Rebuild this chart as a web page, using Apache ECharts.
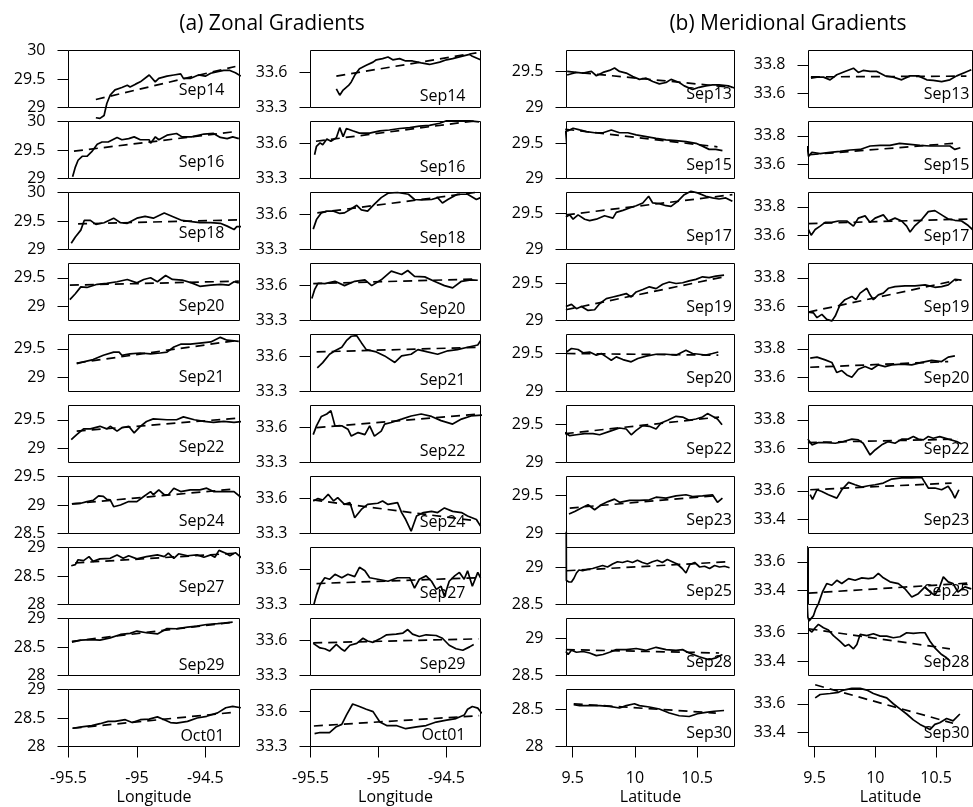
<!DOCTYPE html>
<html><head><meta charset="utf-8">
<script src="https://cdn.jsdelivr.net/npm/echarts@6/dist/echarts.min.js"></script>
<style>html,body{margin:0;padding:0;background:#fff}#c{width:973px;height:807px}</style>
</head><body><div id="c"></div>
<script>
// ---------- categories ----------
const zonalDates = ['Sep14','Sep16','Sep18','Sep20','Sep21','Sep22','Sep24','Sep27','Sep29','Oct01'];
const meridDates = ['Sep13','Sep15','Sep17','Sep19','Sep20','Sep22','Sep23','Sep25','Sep28','Sep30'];

// ---------- axis ranges / tick labels ----------
const lonRange = [-95.5, -94.25];
const latRange = [9.45, 10.8];
const lonTicks = [-95.5, -95, -94.5];
const latTicks = [9.5, 10, 10.5];
const zonalTYMin = [29, 29, 29, 28.75, 28.75, 28.75, 28.5, 28, 28, 28];
const zonalTYMax = [30, 30, 30, 29.75, 29.75, 29.75, 29.5, 29, 29, 29];
const zonalTTicks = [[29,29.5,30],[29,29.5,30],[29,29.5,30],[29,29.5],[29,29.5],[29,29.5],[28.5,29,29.5],[28,28.5,29],[28,28.5,29],[28,28.5,29]];
const zonalSYMin = [33.3,33.3,33.3,33.3,33.3,33.3,33.3,33.3,33.3,33.3];
const zonalSYMax = [33.79,33.79,33.79,33.79,33.79,33.79,33.79,33.79,33.79,33.79];
const zonalSTicks = [33.3, 33.6];
const meridTYMin = [29, 29, 29, 29, 29, 29, 29, 28.5, 28.5, 28];
const meridTYMax = [29.79, 29.81, 29.79, 29.77, 29.75, 29.74, 29.75, 29.26, 29.26, 28.76];
const meridTTicks = [[29,29.5],[29,29.5],[29,29.5],[29,29.5],[29,29.5],[29,29.5],[29,29.5],[28.5,29],[28.5,29],[28,28.5]];
const meridSYMin = [33.5,33.5,33.5,33.5,33.5,33.5,33.3,33.3,33.3,33.3];
const meridSYMax = [33.9,33.9,33.9,33.9,33.9,33.9,33.7,33.7,33.7,33.7];
const meridSTicks = [[33.6,33.8],[33.6,33.8],[33.6,33.8],[33.6,33.8],[33.6,33.8],[33.6,33.8],[33.4,33.6],[33.4,33.6],[33.4,33.6],[33.4,33.6]];

// ---------- (a) zonal temperature ----------
const zonalT_Sep14 = [[-95.30,28.82],[-95.27,28.81],[-95.24,28.86],[-95.22,29.07],[-95.195,29.22],[-95.16,29.31],[-95.11,29.35],[-95.07,29.39],[-95.05,29.36],[-95.01,29.41],[-94.975,29.45],[-94.91,29.57],[-94.866,29.45],[-94.84,29.51],[-94.78,29.55],[-94.73,29.57],[-94.68,29.59],[-94.66,29.51],[-94.61,29.51],[-94.55,29.57],[-94.50,29.55],[-94.46,29.60],[-94.41,29.63],[-94.365,29.65],[-94.32,29.65],[-94.28,29.61],[-94.24,29.55]];
const zonalT_Sep14_fit = [[-95.30,29.14],[-94.28,29.72]];
const zonalT_Sep16 = [[-95.47,29.03],[-95.45,29.20],[-95.43,29.32],[-95.40,29.39],[-95.365,29.39],[-95.33,29.47],[-95.29,29.60],[-95.255,29.64],[-95.21,29.64],[-95.145,29.72],[-95.11,29.68],[-95.06,29.70],[-95.02,29.73],[-94.975,29.68],[-94.91,29.68],[-94.90,29.62],[-94.865,29.73],[-94.84,29.68],[-94.78,29.76],[-94.71,29.79],[-94.67,29.73],[-94.60,29.73],[-94.51,29.78],[-94.44,29.79],[-94.39,29.72],[-94.34,29.70],[-94.30,29.73],[-94.255,29.70]];
const zonalT_Sep16_fit = [[-95.46,29.48],[-94.29,29.82]];
const zonalT_Sep18 = [[-95.48,29.11],[-95.45,29.22],[-95.41,29.34],[-95.385,29.51],[-95.34,29.51],[-95.30,29.44],[-95.24,29.47],[-95.17,29.55],[-95.12,29.47],[-95.07,29.46],[-95.00,29.55],[-94.94,29.58],[-94.88,29.55],[-94.80,29.64],[-94.74,29.58],[-94.67,29.51],[-94.60,29.49],[-94.54,29.47],[-94.46,29.47],[-94.39,29.46],[-94.34,29.41],[-94.29,29.35],[-94.27,29.40],[-94.22,29.40]];
const zonalT_Sep18_fit = [[-95.43,29.45],[-94.255,29.52]];
const zonalT_Sep20 = [[-95.49,29.115],[-95.45,29.22],[-95.41,29.34],[-95.365,29.33],[-95.29,29.385],[-95.22,29.40],[-95.145,29.43],[-95.07,29.47],[-95.00,29.41],[-94.95,29.47],[-94.90,29.50],[-94.85,29.43],[-94.79,29.54],[-94.74,29.47],[-94.67,29.46],[-94.60,29.41],[-94.54,29.35],[-94.46,29.37],[-94.39,29.385],[-94.33,29.37],[-94.29,29.43],[-94.255,29.41]];
const zonalT_Sep20_fit = [[-95.49,29.37],[-94.255,29.44]];
const zonalT_Sep21 = [[-95.44,29.24],[-95.39,29.27],[-95.32,29.31],[-95.245,29.385],[-95.17,29.44],[-95.13,29.44],[-95.11,29.385],[-95.05,29.41],[-94.975,29.425],[-94.90,29.41],[-94.83,29.425],[-94.78,29.44],[-94.73,29.53],[-94.68,29.58],[-94.61,29.58],[-94.54,29.60],[-94.46,29.62],[-94.39,29.70],[-94.34,29.65],[-94.255,29.63]];
const zonalT_Sep21_fit = [[-95.44,29.25],[-94.255,29.65]];
const zonalT_Sep22 = [[-95.48,29.15],[-95.44,29.24],[-95.39,29.34],[-95.34,29.34],[-95.27,29.385],[-95.22,29.34],[-95.195,29.385],[-95.145,29.30],[-95.11,29.36],[-95.06,29.385],[-95.02,29.27],[-94.975,29.385],[-94.93,29.47],[-94.88,29.515],[-94.78,29.50],[-94.71,29.50],[-94.66,29.55],[-94.58,29.50],[-94.51,29.47],[-94.44,29.455],[-94.365,29.47],[-94.29,29.455],[-94.22,29.47]];
const zonalT_Sep22_fit = [[-95.44,29.30],[-94.255,29.53]];
const zonalT_Sep24 = [[-95.475,29.02],[-95.41,29.03],[-95.365,29.06],[-95.32,29.08],[-95.28,29.16],[-95.245,29.15],[-95.22,29.10],[-95.195,29.09],[-95.17,28.97],[-95.12,29.00],[-95.06,29.06],[-95.00,29.06],[-94.95,29.15],[-94.90,29.235],[-94.88,29.18],[-94.84,29.265],[-94.80,29.18],[-94.77,29.18],[-94.73,29.295],[-94.68,29.235],[-94.61,29.265],[-94.54,29.265],[-94.49,29.295],[-94.44,29.235],[-94.365,29.235],[-94.29,29.235],[-94.24,29.135]];
const zonalT_Sep24_fit = [[-95.475,29.02],[-94.29,29.28]];
const zonalT_Sep27 = [[-95.48,28.68],[-95.45,28.70],[-95.43,28.785],[-95.39,28.77],[-95.35,28.84],[-95.32,28.756],[-95.27,28.80],[-95.195,28.81],[-95.145,28.87],[-95.10,28.81],[-95.06,28.855],[-95.00,28.80],[-94.93,28.84],[-94.85,28.87],[-94.80,28.84],[-94.77,28.90],[-94.73,28.81],[-94.695,28.89],[-94.63,28.855],[-94.56,28.87],[-94.51,28.83],[-94.46,28.87],[-94.43,28.83],[-94.40,28.95],[-94.35,28.90],[-94.32,28.855],[-94.28,28.91],[-94.23,28.81]];
const zonalT_Sep27_fit = [[-95.45,28.73],[-94.27,28.90]];
const zonalT_Sep29 = [[-95.475,28.585],[-95.41,28.62],[-95.34,28.63],[-95.27,28.62],[-95.195,28.66],[-95.12,28.72],[-95.05,28.74],[-95.00,28.78],[-94.93,28.75],[-94.85,28.73],[-94.78,28.825],[-94.71,28.82],[-94.63,28.85],[-94.56,28.865],[-94.49,28.895],[-94.41,28.91],[-94.365,28.92],[-94.30,28.935]];
const zonalT_Sep29_fit = [[-95.475,28.60],[-94.30,28.935]];
const zonalT_Oct01 = [[-95.47,28.32],[-95.39,28.35],[-95.33,28.365],[-95.27,28.40],[-95.21,28.44],[-95.16,28.44],[-95.085,28.47],[-95.035,28.42],[-94.975,28.47],[-94.91,28.48],[-94.85,28.52],[-94.80,28.47],[-94.755,28.42],[-94.71,28.41],[-94.63,28.44],[-94.56,28.50],[-94.49,28.53],[-94.41,28.59],[-94.35,28.68],[-94.30,28.705],[-94.24,28.68]];
const zonalT_Oct01_fit = [[-95.47,28.32],[-94.29,28.60]];

// ---------- (a) zonal salinity ----------
const zonalS_Sep14 = [[-95.31,33.46],[-95.285,33.406],[-95.26,33.45],[-95.22,33.49],[-95.20,33.52],[-95.175,33.577],[-95.14,33.634],[-95.09,33.663],[-95.04,33.69],[-95.016,33.71],[-94.97,33.72],[-94.93,33.734],[-94.895,33.71],[-94.845,33.72],[-94.80,33.70],[-94.75,33.70],[-94.686,33.683],[-94.625,33.67],[-94.55,33.69],[-94.50,33.71],[-94.455,33.72],[-94.39,33.74],[-94.33,33.757],[-94.31,33.74],[-94.25,33.71]];
const zonalS_Sep14_fit = [[-95.31,33.57],[-94.28,33.77]];
const zonalS_Sep16 = [[-95.47,33.504],[-95.456,33.577],[-95.43,33.606],[-95.41,33.59],[-95.38,33.64],[-95.35,33.62],[-95.31,33.65],[-95.285,33.737],[-95.26,33.66],[-95.236,33.73],[-95.19,33.71],[-95.14,33.69],[-95.065,33.69],[-94.99,33.71],[-94.92,33.717],[-94.845,33.73],[-94.77,33.737],[-94.70,33.75],[-94.625,33.757],[-94.55,33.775],[-94.50,33.796],[-94.43,33.796],[-94.33,33.796],[-94.26,33.787]];
const zonalS_Sep16_fit = [[-95.46,33.62],[-94.26,33.80]];
const zonalS_Sep18 = [[-95.48,33.475],[-95.456,33.557],[-95.42,33.615],[-95.38,33.63],[-95.33,33.63],[-95.285,33.61],[-95.25,33.615],[-95.20,33.65],[-95.16,33.68],[-95.126,33.64],[-95.08,33.63],[-95.03,33.69],[-94.98,33.746],[-94.93,33.784],[-94.86,33.79],[-94.78,33.775],[-94.735,33.73],[-94.686,33.726],[-94.61,33.73],[-94.565,33.746],[-94.53,33.70],[-94.49,33.73],[-94.42,33.775],[-94.345,33.775],[-94.28,33.73],[-94.25,33.746]];
const zonalS_Sep18_fit = [[-95.45,33.615],[-94.25,33.796]];
const zonalS_Sep20 = [[-95.49,33.49],[-95.47,33.565],[-95.445,33.62],[-95.395,33.617],[-95.32,33.637],[-95.25,33.60],[-95.175,33.637],[-95.10,33.65],[-95.05,33.60],[-94.98,33.65],[-94.906,33.724],[-94.83,33.695],[-94.785,33.73],[-94.735,33.68],[-94.66,33.675],[-94.59,33.637],[-94.515,33.60],[-94.455,33.58],[-94.39,33.637],[-94.32,33.65],[-94.27,33.646]];
const zonalS_Sep20_fit = [[-95.48,33.617],[-94.27,33.657]];
const zonalS_Sep21 = [[-95.45,33.504],[-95.41,33.548],[-95.36,33.62],[-95.32,33.65],[-95.27,33.68],[-95.236,33.737],[-95.20,33.775],[-95.16,33.78],[-95.126,33.72],[-95.09,33.66],[-95.016,33.64],[-94.955,33.606],[-94.88,33.55],[-94.83,33.606],[-94.76,33.62],[-94.71,33.66],[-94.64,33.64],[-94.565,33.62],[-94.49,33.65],[-94.42,33.66],[-94.345,33.68],[-94.27,33.70],[-94.25,33.737]];
const zonalS_Sep21_fit = [[-95.455,33.64],[-94.27,33.68]];
const zonalS_Sep22 = [[-95.48,33.54],[-95.456,33.615],[-95.42,33.696],[-95.38,33.717],[-95.35,33.746],[-95.32,33.615],[-95.27,33.615],[-95.225,33.586],[-95.20,33.527],[-95.15,33.557],[-95.10,33.54],[-95.065,33.615],[-95.03,33.527],[-94.98,33.57],[-94.955,33.63],[-94.906,33.644],[-94.83,33.673],[-94.76,33.70],[-94.686,33.717],[-94.61,33.696],[-94.54,33.66],[-94.455,33.63],[-94.39,33.673],[-94.32,33.70],[-94.235,33.708]];
const zonalS_Sep22_fit = [[-95.456,33.60],[-94.25,33.717]];
const zonalS_Sep24 = [[-95.48,33.58],[-95.445,33.60],[-95.41,33.588],[-95.37,33.637],[-95.33,33.58],[-95.30,33.608],[-95.25,33.55],[-95.21,33.565],[-95.175,33.435],[-95.126,33.507],[-95.08,33.55],[-95.005,33.56],[-94.97,33.58],[-94.93,33.55],[-94.86,33.565],[-94.83,33.48],[-94.80,33.42],[-94.76,33.32],[-94.72,33.45],[-94.67,33.48],[-94.61,33.49],[-94.565,33.48],[-94.515,33.52],[-94.455,33.49],[-94.39,33.48],[-94.345,33.45],[-94.28,33.42],[-94.25,33.363]];
const zonalS_Sep24_fit = [[-95.48,33.588],[-94.27,33.407]];
const zonalS_Sep27 = [[-95.475,33.30],[-95.456,33.383],[-95.43,33.47],[-95.395,33.53],[-95.36,33.517],[-95.32,33.56],[-95.27,33.53],[-95.225,33.56],[-95.175,33.54],[-95.14,33.62],[-95.10,33.59],[-95.065,33.53],[-95.005,33.517],[-94.93,33.50],[-94.86,33.53],[-94.77,33.53],[-94.735,33.44],[-94.70,33.517],[-94.65,33.546],[-94.61,33.50],[-94.575,33.43],[-94.54,33.457],[-94.515,33.37],[-94.48,33.50],[-94.44,33.546],[-94.405,33.576],[-94.37,33.517],[-94.345,33.59],[-94.31,33.457],[-94.27,33.576],[-94.25,33.53]];
const zonalS_Sep27_fit = [[-95.456,33.48],[-94.27,33.53]];
const zonalS_Sep29 = [[-95.48,33.576],[-95.43,33.537],[-95.395,33.53],[-95.36,33.51],[-95.31,33.567],[-95.27,33.525],[-95.25,33.51],[-95.21,33.56],[-95.16,33.576],[-95.114,33.62],[-95.08,33.597],[-95.04,33.585],[-94.99,33.615],[-94.94,33.65],[-94.87,33.656],[-94.82,33.665],[-94.785,33.695],[-94.75,33.656],[-94.70,33.635],[-94.65,33.65],[-94.576,33.644],[-94.53,33.62],[-94.48,33.56],[-94.43,33.53],[-94.38,33.517],[-94.33,33.546],[-94.30,33.567]];
const zonalS_Sep29_fit = [[-95.48,33.58],[-94.265,33.615]];
const zonalS_Oct01 = [[-95.47,33.41],[-95.43,33.42],[-95.36,33.42],[-95.31,33.47],[-95.27,33.49],[-95.236,33.57],[-95.19,33.665],[-95.14,33.644],[-95.09,33.62],[-95.04,33.60],[-94.99,33.51],[-94.94,33.48],[-94.87,33.48],[-94.80,33.453],[-94.72,33.468],[-94.65,33.48],[-94.576,33.51],[-94.50,33.526],[-94.43,33.54],[-94.37,33.57],[-94.345,33.62],[-94.31,33.644],[-94.27,33.63],[-94.24,33.585]];
const zonalS_Oct01_fit = [[-95.475,33.476],[-94.26,33.565]];

// ---------- (b) meridional temperature ----------
const meridT_Sep13 = [[9.455,29.45],[9.49,29.467],[9.53,29.486],[9.583,29.477],[9.65,29.50],[9.69,29.44],[9.743,29.486],[9.796,29.514],[9.836,29.547],[9.876,29.50],[9.93,29.477],[9.983,29.43],[10.036,29.39],[10.09,29.407],[10.143,29.36],[10.196,29.327],[10.25,29.346],[10.29,29.39],[10.356,29.346],[10.396,29.30],[10.463,29.25],[10.516,29.28],[10.57,29.30],[10.623,29.313],[10.676,29.313],[10.75,29.30],[10.80,29.27]];
const meridT_Sep13_fit = [[9.455,29.50],[10.78,29.28]];
const meridT_Sep15 = [[9.43,29.45],[9.44,29.667],[9.463,29.68],[9.503,29.714],[9.556,29.69],[9.61,29.667],[9.676,29.65],[9.743,29.65],[9.81,29.69],[9.876,29.65],[9.943,29.65],[10.01,29.62],[10.09,29.595],[10.17,29.57],[10.25,29.548],[10.33,29.538],[10.41,29.524],[10.49,29.50],[10.543,29.46],[10.596,29.414],[10.65,29.414],[10.703,29.395]];
const meridT_Sep15_fit = [[9.44,29.70],[10.663,29.45]];
const meridT_Sep17 = [[9.445,29.45],[9.476,29.48],[9.503,29.42],[9.543,29.48],[9.596,29.42],[9.636,29.40],[9.69,29.42],[9.756,29.467],[9.823,29.435],[9.85,29.514],[9.903,29.542],[9.956,29.575],[10.01,29.607],[10.063,29.645],[10.11,29.738],[10.143,29.645],[10.196,29.636],[10.25,29.607],[10.29,29.598],[10.343,29.668],[10.396,29.76],[10.45,29.808],[10.503,29.785],[10.57,29.738],[10.623,29.715],[10.676,29.70],[10.73,29.715],[10.783,29.668]];
const meridT_Sep17_fit = [[9.445,29.48],[10.783,29.76]];
const meridT_Sep19 = [[9.445,29.19],[9.49,29.218],[9.53,29.16],[9.57,29.19],[9.623,29.136],[9.676,29.145],[9.716,29.227],[9.77,29.295],[9.823,29.318],[9.876,29.34],[9.93,29.364],[9.97,29.318],[10.01,29.386],[10.063,29.418],[10.116,29.455],[10.17,29.43],[10.223,29.49],[10.276,29.52],[10.33,29.50],[10.383,29.51],[10.436,29.536],[10.49,29.555],[10.543,29.59],[10.596,29.58],[10.65,29.60],[10.716,29.614]];
const meridT_Sep19_fit = [[9.445,29.145],[10.716,29.59]];
const meridT_Sep20 = [[9.45,29.52],[9.49,29.566],[9.543,29.553],[9.583,29.51],[9.636,29.52],[9.69,29.478],[9.73,29.50],[9.77,29.456],[9.81,29.412],[9.85,29.456],[9.903,29.42],[9.97,29.39],[10.023,29.434],[10.09,29.465],[10.17,29.49],[10.25,29.49],[10.33,29.478],[10.41,29.544],[10.463,29.50],[10.516,29.49],[10.57,29.478],[10.623,29.50],[10.67,29.52]];
const meridT_Sep20_fit = [[9.45,29.50],[10.67,29.478]];
const meridT_Sep22 = [[9.436,29.39],[9.476,29.348],[9.53,29.36],[9.596,29.374],[9.663,29.374],[9.716,29.36],[9.796,29.404],[9.876,29.448],[9.93,29.435],[9.97,29.36],[10.01,29.417],[10.063,29.478],[10.116,29.47],[10.17,29.435],[10.21,29.513],[10.263,29.548],[10.33,29.60],[10.383,29.59],[10.436,29.548],[10.49,29.565],[10.543,29.59],[10.583,29.635],[10.623,29.60],[10.663,29.565],[10.70,29.49]];
const meridT_Sep22_fit = [[9.436,29.374],[10.676,29.59]];
const meridT_Sep23 = [[9.47,29.257],[9.516,29.29],[9.57,29.335],[9.623,29.378],[9.676,29.313],[9.73,29.378],[9.783,29.42],[9.836,29.452],[9.876,29.41],[9.956,29.435],[10.036,29.435],[10.116,29.443],[10.17,29.478],[10.25,29.465],[10.33,29.496],[10.41,29.51],[10.463,29.487],[10.543,29.496],[10.623,29.51],[10.663,29.41],[10.703,29.465]];
const meridT_Sep23_fit = [[9.476,29.335],[10.636,29.496]];
const meridT_Sep25 = [[9.448,29.47],[9.449,28.82],[9.47,28.80],[9.49,28.80],[9.51,28.85],[9.53,28.92],[9.55,28.96],[9.58,28.95],[9.62,28.97],[9.66,28.98],[9.70,29.0],[9.74,29.02],[9.78,29.0],[9.82,29.04],[9.86,29.07],[9.90,29.06],[9.94,29.08],[9.98,29.06],[10.02,29.09],[10.06,29.06],[10.10,29.04],[10.14,29.07],[10.18,29.09],[10.22,29.06],[10.26,29.10],[10.30,29.07],[10.34,29.04],[10.38,28.98],[10.41,28.92],[10.44,29.03],[10.48,29.06],[10.52,29.0],[10.56,29.01],[10.60,28.98],[10.64,29.02],[10.68,29.0],[10.72,29.01],[10.76,28.99]];
const meridT_Sep25_fit = [[9.45,28.95],[10.75,29.07]];
const meridT_Sep28 = [[9.445,28.82],[9.463,28.78],[9.49,28.836],[9.53,28.81],[9.583,28.82],[9.636,28.80],[9.69,28.765],[9.743,28.78],[9.796,28.81],[9.85,28.845],[9.93,28.845],[10.01,28.86],[10.09,28.836],[10.17,28.876],[10.25,28.845],[10.33,28.836],[10.383,28.845],[10.436,28.80],[10.516,28.75],[10.596,28.71],[10.65,28.735],[10.703,28.78]];
const meridT_Sep28_fit = [[9.445,28.845],[10.676,28.80]];
const meridT_Sep30 = [[9.508,28.558],[9.556,28.545],[9.636,28.545],[9.716,28.545],[9.796,28.536],[9.876,28.513],[9.93,28.545],[9.996,28.57],[10.036,28.545],[10.116,28.527],[10.196,28.50],[10.276,28.446],[10.356,28.41],[10.436,28.40],[10.503,28.437],[10.57,28.455],[10.636,28.47],[10.716,28.48]];
const meridT_Sep30_fit = [[9.508,28.57],[10.65,28.446]];

// ---------- (b) meridional salinity ----------
const meridS_Sep13 = [[9.47,33.706],[9.52,33.713],[9.573,33.713],[9.628,33.694],[9.683,33.73],[9.75,33.753],[9.82,33.776],[9.86,33.746],[9.90,33.76],[9.957,33.753],[10.012,33.753],[10.08,33.722],[10.148,33.713],[10.217,33.694],[10.286,33.722],[10.354,33.722],[10.423,33.694],[10.477,33.69],[10.546,33.682],[10.614,33.694],[10.67,33.722],[10.737,33.746],[10.79,33.765]];
const meridS_Sep13_fit = [[9.47,33.715],[10.75,33.72]];
const meridS_Sep15 = [[9.44,33.728],[9.45,33.655],[9.478,33.684],[9.546,33.675],[9.628,33.684],[9.71,33.69],[9.793,33.70],[9.875,33.704],[9.957,33.728],[10.04,33.733],[10.12,33.733],[10.20,33.747],[10.286,33.74],[10.368,33.733],[10.45,33.728],[10.53,33.728],[10.614,33.728],[10.655,33.704],[10.70,33.716]];
const meridS_Sep15_fit = [[9.46,33.667],[10.64,33.747]];
const meridS_Sep17 = [[9.45,33.64],[9.472,33.60],[9.505,33.64],[9.546,33.664],[9.587,33.69],[9.642,33.69],[9.697,33.70],[9.765,33.70],[9.82,33.664],[9.86,33.72],[9.916,33.736],[9.957,33.69],[9.998,33.72],[10.066,33.743],[10.107,33.70],[10.162,33.72],[10.217,33.70],[10.258,33.664],[10.286,33.623],[10.327,33.668],[10.382,33.71],[10.436,33.766],[10.49,33.773],[10.546,33.743],[10.6,33.714],[10.655,33.705],[10.71,33.70],[10.765,33.668],[10.8,33.64]];
const meridS_Sep17_fit = [[9.45,33.682],[10.765,33.714]];
const meridS_Sep19 = [[9.45,33.559],[9.49,33.554],[9.52,33.52],[9.56,33.543],[9.60,33.508],[9.642,33.497],[9.67,33.531],[9.71,33.611],[9.75,33.646],[9.807,33.669],[9.84,33.646],[9.875,33.692],[9.93,33.726],[9.957,33.68],[9.984,33.646],[10.025,33.68],[10.066,33.692],[10.107,33.726],[10.162,33.738],[10.244,33.743],[10.327,33.743],[10.41,33.75],[10.49,33.733],[10.546,33.738],[10.6,33.75],[10.655,33.789],[10.71,33.784]];
const meridS_Sep19_fit = [[9.45,33.559],[10.68,33.784]];
const meridS_Sep20 = [[9.464,33.734],[9.52,33.741],[9.587,33.722],[9.642,33.704],[9.683,33.633],[9.724,33.647],[9.765,33.616],[9.807,33.60],[9.86,33.656],[9.916,33.675],[9.97,33.656],[10.025,33.687],[10.08,33.675],[10.135,33.687],[10.217,33.692],[10.3,33.687],[10.382,33.704],[10.464,33.718],[10.546,33.71],[10.6,33.741],[10.655,33.75]];
const meridS_Sep20_fit = [[9.464,33.67],[10.6,33.71]];
const meridS_Sep22 = [[9.445,33.664],[9.478,33.624],[9.532,33.64],[9.6,33.64],[9.67,33.635],[9.738,33.647],[9.807,33.664],[9.86,33.659],[9.9,33.635],[9.957,33.553],[9.998,33.588],[10.053,33.624],[10.107,33.647],[10.162,33.635],[10.217,33.664],[10.27,33.664],[10.313,33.682],[10.354,33.664],[10.395,33.659],[10.436,33.682],[10.477,33.67],[10.53,33.682],[10.6,33.664],[10.67,33.647],[10.71,33.63]];
const meridS_Sep22_fit = [[9.445,33.64],[10.68,33.664]];
const meridS_Sep23 = [[9.464,33.572],[9.483,33.54],[9.52,33.607],[9.56,33.595],[9.614,33.572],[9.683,33.548],[9.724,33.607],[9.78,33.659],[9.834,33.642],[9.889,33.626],[9.943,33.635],[9.998,33.642],[10.066,33.654],[10.135,33.682],[10.217,33.69],[10.3,33.69],[10.382,33.694],[10.436,33.619],[10.49,33.619],[10.546,33.607],[10.6,33.631],[10.628,33.595],[10.655,33.548],[10.688,33.607]];
const meridS_Sep23_fit = [[9.464,33.607],[10.628,33.654]];
const meridS_Sep25 = [[9.438,33.71],[9.44,33.30],[9.445,33.21],[9.455,33.185],[9.47,33.19],[9.49,33.22],[9.51,33.27],[9.532,33.306],[9.565,33.388],[9.6,33.447],[9.642,33.435],[9.683,33.47],[9.724,33.447],[9.78,33.482],[9.834,33.47],[9.889,33.487],[9.943,33.482],[9.984,33.487],[10.025,33.518],[10.066,33.487],[10.121,33.459],[10.19,33.447],[10.244,33.41],[10.3,33.353],[10.354,33.376],[10.409,33.424],[10.45,33.388],[10.49,33.365],[10.53,33.424],[10.56,33.494],[10.6,33.459],[10.64,33.447],[10.68,33.388],[10.738,33.424],[10.79,33.41]];
const meridS_Sep25_fit = [[9.45,33.38],[10.765,33.45]];
const meridS_Sep28 = [[9.45,33.624],[9.478,33.605],[9.505,33.635],[9.532,33.659],[9.573,33.635],[9.614,33.619],[9.655,33.58],[9.71,33.54],[9.75,33.506],[9.78,33.518],[9.82,33.487],[9.848,33.518],[9.875,33.588],[9.93,33.58],[9.984,33.593],[10.039,33.576],[10.094,33.576],[10.148,33.565],[10.203,33.572],[10.258,33.60],[10.313,33.595],[10.368,33.60],[10.409,33.60],[10.45,33.54],[10.49,33.494],[10.546,33.447],[10.587,33.424],[10.614,33.40]];
const meridS_Sep28_fit = [[9.45,33.628],[10.614,33.487]];
const meridS_Sep30 = [[9.505,33.641],[9.546,33.665],[9.628,33.672],[9.697,33.68],[9.738,33.696],[9.807,33.708],[9.875,33.708],[9.93,33.696],[9.984,33.672],[10.039,33.655],[10.094,33.641],[10.148,33.60],[10.203,33.564],[10.258,33.528],[10.313,33.487],[10.368,33.455],[10.423,33.431],[10.45,33.419],[10.49,33.455],[10.53,33.467],[10.587,33.496],[10.64,33.48],[10.696,33.528]];
const meridS_Sep30_fit = [[9.505,33.733],[10.64,33.463]];

// ---------- assemble ----------
const zonalT = [zonalT_Sep14,zonalT_Sep16,zonalT_Sep18,zonalT_Sep20,zonalT_Sep21,zonalT_Sep22,zonalT_Sep24,zonalT_Sep27,zonalT_Sep29,zonalT_Oct01];
const zonalTFit = [zonalT_Sep14_fit,zonalT_Sep16_fit,zonalT_Sep18_fit,zonalT_Sep20_fit,zonalT_Sep21_fit,zonalT_Sep22_fit,zonalT_Sep24_fit,zonalT_Sep27_fit,zonalT_Sep29_fit,zonalT_Oct01_fit];
const zonalS = [zonalS_Sep14,zonalS_Sep16,zonalS_Sep18,zonalS_Sep20,zonalS_Sep21,zonalS_Sep22,zonalS_Sep24,zonalS_Sep27,zonalS_Sep29,zonalS_Oct01];
const zonalSFit = [zonalS_Sep14_fit,zonalS_Sep16_fit,zonalS_Sep18_fit,zonalS_Sep20_fit,zonalS_Sep21_fit,zonalS_Sep22_fit,zonalS_Sep24_fit,zonalS_Sep27_fit,zonalS_Sep29_fit,zonalS_Oct01_fit];
const meridT = [meridT_Sep13,meridT_Sep15,meridT_Sep17,meridT_Sep19,meridT_Sep20,meridT_Sep22,meridT_Sep23,meridT_Sep25,meridT_Sep28,meridT_Sep30];
const meridTFit = [meridT_Sep13_fit,meridT_Sep15_fit,meridT_Sep17_fit,meridT_Sep19_fit,meridT_Sep20_fit,meridT_Sep22_fit,meridT_Sep23_fit,meridT_Sep25_fit,meridT_Sep28_fit,meridT_Sep30_fit];
const meridS = [meridS_Sep13,meridS_Sep15,meridS_Sep17,meridS_Sep19,meridS_Sep20,meridS_Sep22,meridS_Sep23,meridS_Sep25,meridS_Sep28,meridS_Sep30];
const meridSFit = [meridS_Sep13_fit,meridS_Sep15_fit,meridS_Sep17_fit,meridS_Sep19_fit,meridS_Sep20_fit,meridS_Sep22_fit,meridS_Sep23_fit,meridS_Sep25_fit,meridS_Sep28_fit,meridS_Sep30_fit];

// ---------- layout ----------
const FONT = '"Open Sans", "Noto Sans", sans-serif';
const colLeft = [68.5, 310.5, 566.5, 808.5];
const colWidth = [171, 170, 168, 164];
const rowTop0 = 50.5, rowStep = 71, rowH = 57;
const labelInset = [15, 15, 2.5, 3];
const col1LabelDy = [40, 41, 40.6, 43.3, 43.3, 42.3, 45, 39.7, 46.7, 46.7];
const colLabelDy = [null, 45.7, 44.3, 44.3];

const columns = [
  {dates: zonalDates, solid: zonalT, fit: zonalTFit, xr: lonRange, xt: lonTicks, ymin: zonalTYMin, ymax: zonalTYMax, yt: zonalTTicks, xname: 'Longitude'},
  {dates: zonalDates, solid: zonalS, fit: zonalSFit, xr: lonRange, xt: lonTicks, ymin: zonalSYMin, ymax: zonalSYMax, yt: zonalTTicks.map(() => zonalSTicks), xname: 'Longitude'},
  {dates: meridDates, solid: meridT, fit: meridTFit, xr: latRange, xt: latTicks, ymin: meridTYMin, ymax: meridTYMax, yt: meridTTicks, xname: 'Latitude'},
  {dates: meridDates, solid: meridS, fit: meridSFit, xr: latRange, xt: latTicks, ymin: meridSYMin, ymax: meridSYMax, yt: meridSTicks, xname: 'Latitude'}
];

const grid = [], xAxis = [], yAxis = [], series = [], graphic = [];
columns.forEach((col, c) => {
  for (let r = 0; r < 10; r++) {
    const idx = grid.length;
    const top = rowTop0 + rowStep * r;
    grid.push({left: colLeft[c], top: top, width: colWidth[c], height: rowH, show: true,
      borderColor: '#000', borderWidth: 1, backgroundColor: 'transparent', outerBoundsMode: 'none'});
    const bottomRow = r === 9;
    xAxis.push({type: 'value', gridIndex: idx, min: col.xr[0], max: col.xr[1],
      axisLine: {show: false}, splitLine: {show: false},
      axisTick: {show: bottomRow, length: 11, customValues: col.xt, lineStyle: {color: '#000', width: 1}},
      axisLabel: {show: bottomRow, customValues: col.xt, margin: 24, color: '#000', fontSize: 16, fontFamily: FONT}});
    yAxis.push({type: 'value', gridIndex: idx, min: col.ymin[r], max: col.ymax[r],
      axisLine: {show: false}, splitLine: {show: false},
      axisTick: {show: true, length: 11, customValues: col.yt[r], lineStyle: {color: '#000', width: 1}},
      axisLabel: {show: true, customValues: col.yt[r], margin: 23, color: '#000', fontSize: 16, fontFamily: FONT}});
    series.push({type: 'line', xAxisIndex: idx, yAxisIndex: idx, data: col.solid[r], symbol: 'none',
      clip: false, silent: true, lineStyle: {color: '#000', width: 1.7}});
    series.push({type: 'line', xAxisIndex: idx, yAxisIndex: idx, data: col.fit[r], symbol: 'none',
      clip: false, silent: true, lineStyle: {color: '#000', width: 1.7, type: [9, 6]}});
    const dy = c === 0 ? col1LabelDy[r] : colLabelDy[c];
    graphic.push({type: 'text', x: colLeft[c] + colWidth[c] - labelInset[c], y: top + dy, silent: true,
      style: {text: col.dates[r], font: '16px ' + FONT, fill: '#000', textAlign: 'right', textVerticalAlign: 'middle'}});
  }
  graphic.push({type: 'text', x: colLeft[c] + colWidth[c] / 2, y: 797, silent: true,
    style: {text: col.xname, font: '16px ' + FONT, fill: '#000', textAlign: 'center', textVerticalAlign: 'middle'}});
});
graphic.push({type: 'text', x: 272, y: 24, silent: true,
  style: {text: '(a) Zonal Gradients', font: '21px ' + FONT, fill: '#000', textAlign: 'center', textVerticalAlign: 'middle'}});
graphic.push({type: 'text', x: 788, y: 24, silent: true,
  style: {text: '(b) Meridional Gradients', font: '21px ' + FONT, fill: '#000', textAlign: 'center', textVerticalAlign: 'middle'}});

const chart = echarts.init(document.getElementById('c'), null, {renderer: 'canvas'});
chart.setOption({animation: false, backgroundColor: '#fff', grid, xAxis, yAxis, series, graphic});
</script>
</body></html>
